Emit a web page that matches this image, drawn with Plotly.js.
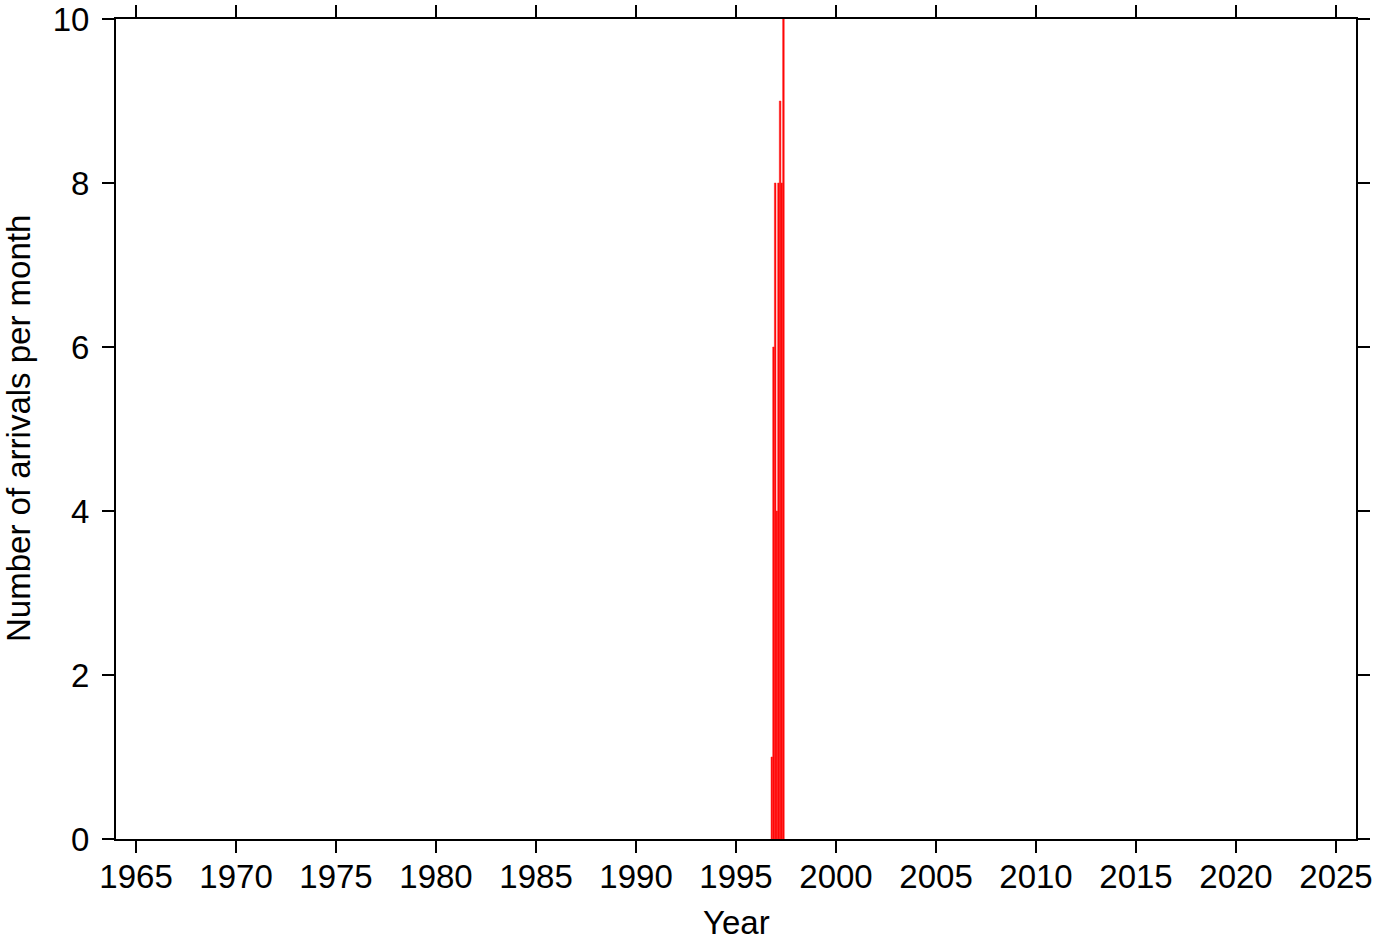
<!DOCTYPE html>
<html>
<head>
<meta charset="utf-8">
<script src="https://cdn.plot.ly/plotly-3.0.1.min.js"></script>
<style>html,body{margin:0;padding:0;background:#fff;}#chart{width:1382px;height:942px;}</style>
</head>
<body>
<div id="chart"></div>
<script>
const months = ['1996-10-01','1996-11-01','1996-12-01','1997-01-01','1997-02-01','1997-03-01','1997-04-01','1997-05-01'];
const arrivals = [1, 6, 8, 4, 8, 9, 8, 10];
const yTicks = [0, 2, 4, 6, 8, 10];
const xTitle = 'Year';
const yTitle = 'Number of arrivals per month';

const trace = {
  type: 'bar',
  x: months,
  y: arrivals,
  xperiod: 'M1',
  xperiodalignment: 'middle',
  marker: {color: '#ff0000', line: {color: '#ff2020', width: 0.5}},
  hoverinfo: 'x+y'
};

const font = {family: 'Liberation Sans, Arial, sans-serif', size: 33, color: '#000'};

const layout = {
  width: 1382, height: 942,
  margin: {l: 116, r: 26, t: 19, b: 103},
  paper_bgcolor: '#fff', plot_bgcolor: '#fff',
  font: font,
  bargap: 0,
  showlegend: false,
  xaxis: {
    type: 'date',
    range: ['1964-01-01', '2026-01-01'],
    tick0: '1965-01-01', dtick: 'M60', tickformat: '%Y',
    ticks: 'outside', ticklen: 12, tickwidth: 1.5, tickcolor: '#000',
    showline: true, linewidth: 2, linecolor: '#000', mirror: 'allticks',
    showgrid: false, zeroline: false,
    ticklabelstandoff: -5,
    ticklabeloverflow: 'allow'
  },
  yaxis: {
    range: [0, 10],
    tickvals: yTicks,
    ticks: 'outside', ticklen: 12, tickwidth: 1.5, tickcolor: '#000',
    showline: true, linewidth: 2, linecolor: '#000', mirror: 'allticks',
    showgrid: false, zeroline: false,
    ticklabelstandoff: 6,
    ticklabeloverflow: 'allow'
  },
  annotations: [
    {text: xTitle, xref: 'paper', yref: 'paper', x: 0.5, y: 0, xanchor: 'center', yanchor: 'middle',
     yshift: -83, showarrow: false, font: font},
    {text: yTitle, xref: 'paper', yref: 'paper', x: 0, y: 0.5, xanchor: 'center', yanchor: 'middle',
     xshift: -98, textangle: -90, showarrow: false, font: font}
  ]
};

Plotly.newPlot('chart', [trace], layout, {staticPlot: true});
</script>
</body>
</html>
